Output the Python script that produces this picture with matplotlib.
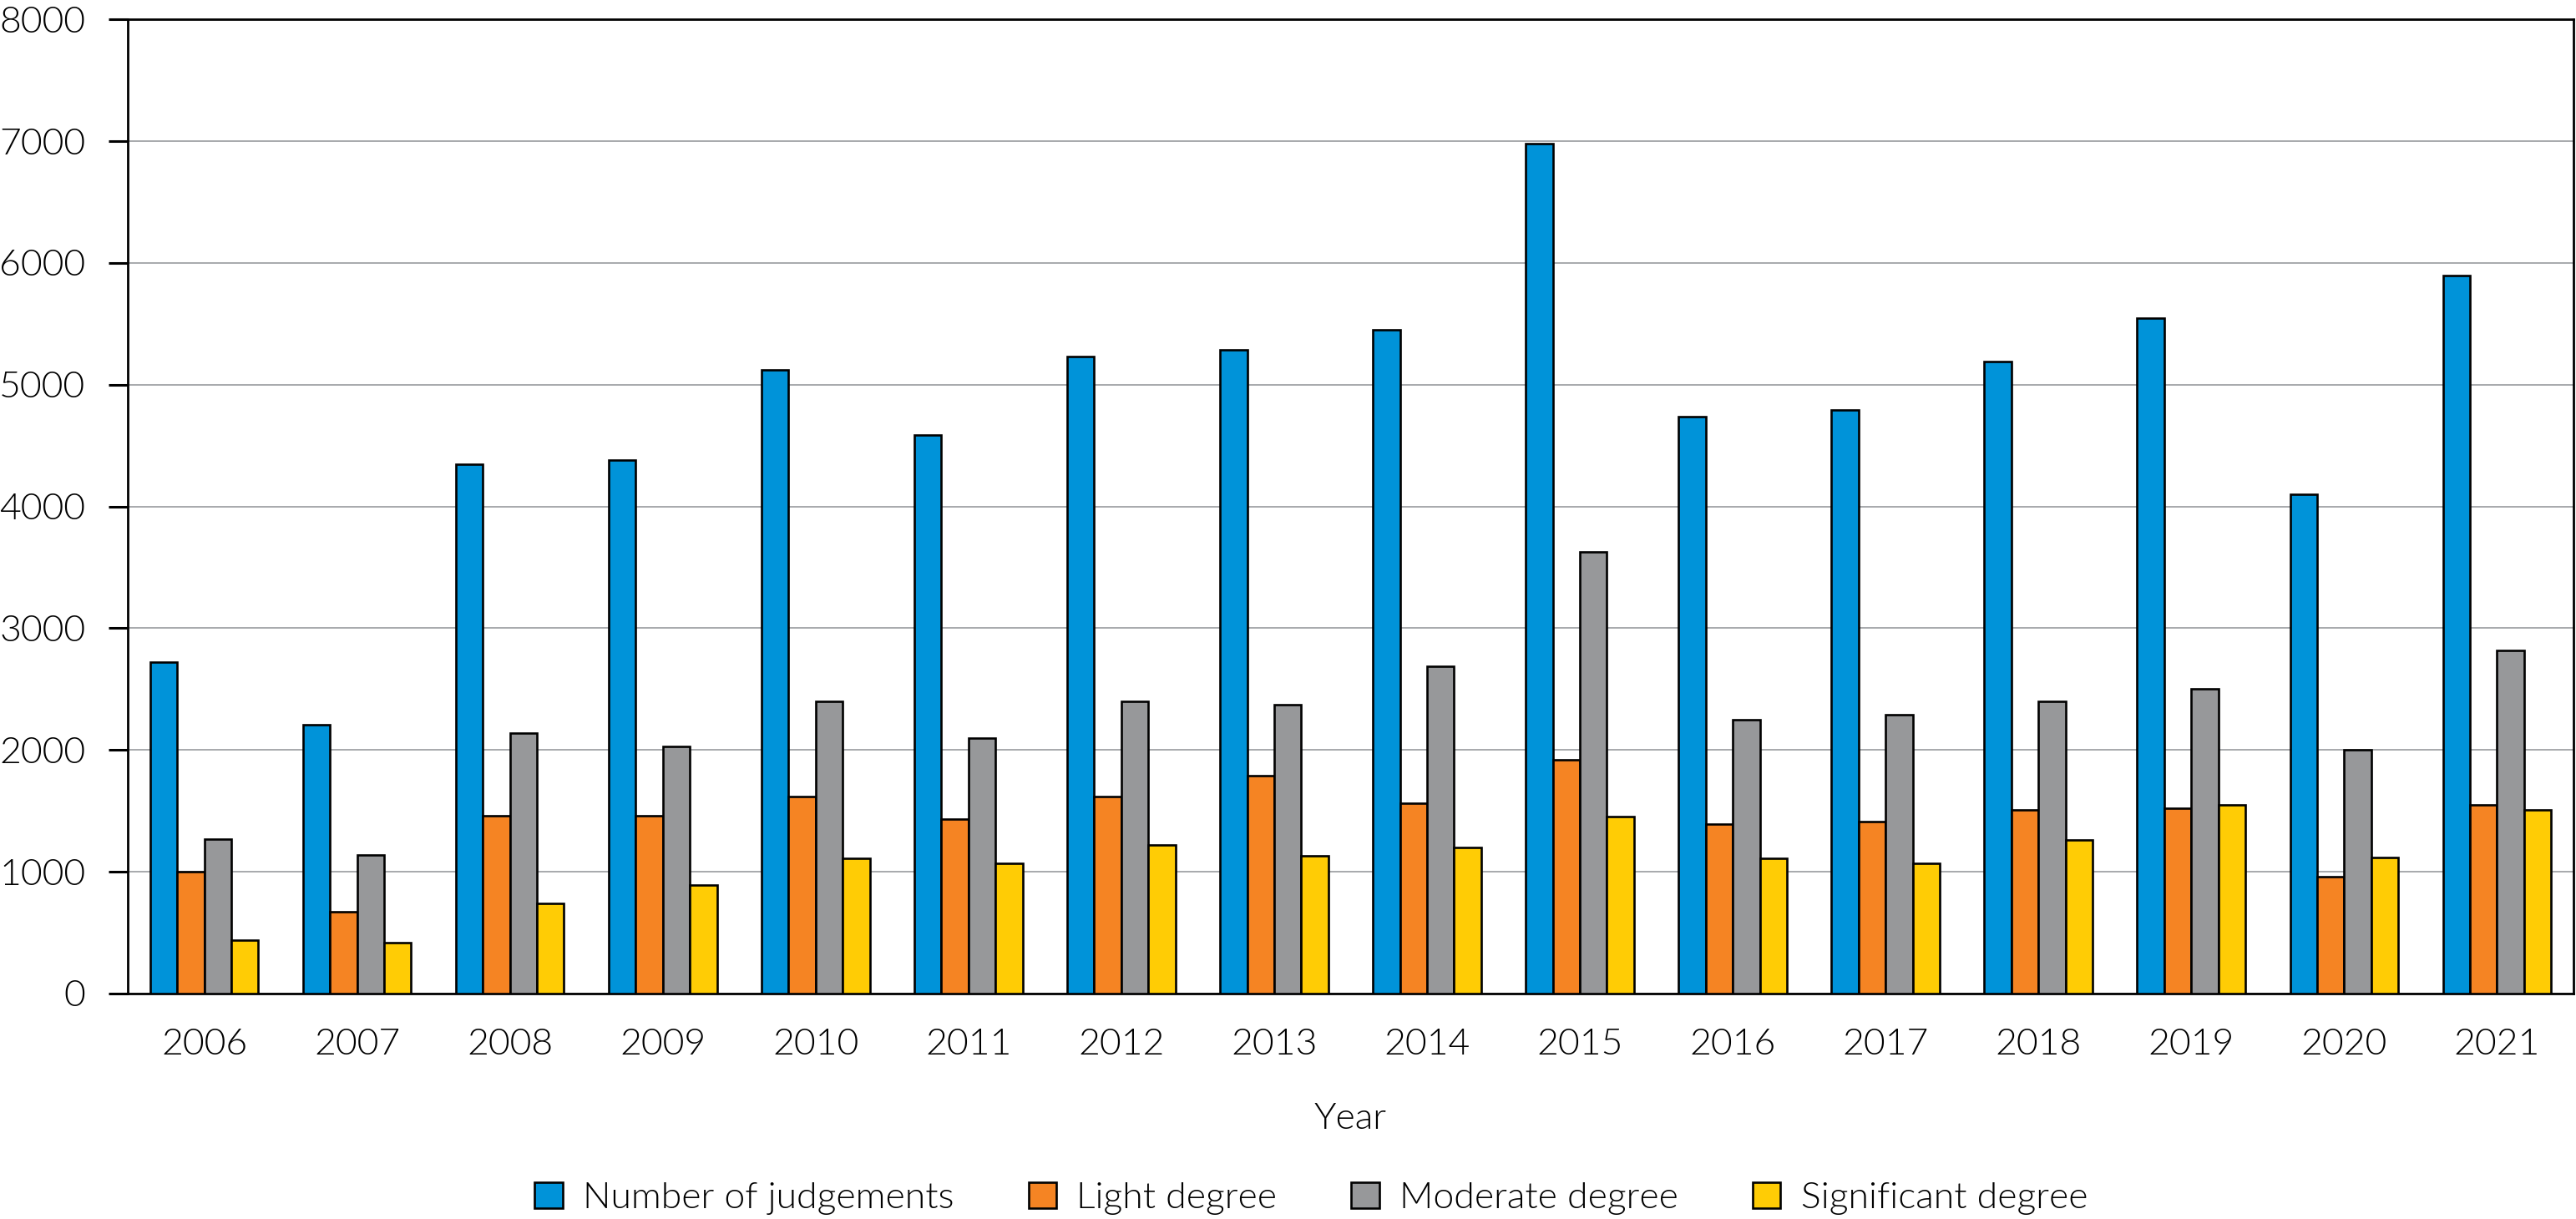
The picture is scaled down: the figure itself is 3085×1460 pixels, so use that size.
import numpy as np
import matplotlib
matplotlib.use("Agg")
import matplotlib.pyplot as plt

# ---------------------------------------------------------------- data
years = [2006, 2007, 2008, 2009, 2010, 2011, 2012, 2013,
         2014, 2015, 2016, 2017, 2018, 2019, 2020, 2021]
judgements = [2720, 2210, 4350, 4380, 5120, 4590, 5230, 5290,
              5450, 6980, 4740, 4790, 5190, 5550, 4100, 5900]
light = [1000, 670, 1460, 1460, 1620, 1435, 1620, 1790,
         1560, 1920, 1390, 1410, 1505, 1520, 960, 1550]
moderate = [1270, 1140, 2140, 2030, 2400, 2100, 2400, 2370,
            2690, 3630, 2250, 2290, 2400, 2500, 2000, 2820]
significant = [440, 420, 740, 890, 1110, 1070, 1220, 1130,
               1200, 1450, 1110, 1070, 1260, 1550, 1120, 1510]

series_names = ["Number of judgements", "Light degree",
                "Moderate degree", "Significant degree"]
colors = ["#0093D9", "#F58423", "#97989A", "#FFCC05"]

# ---------------------------------------------------------------- style
plt.rcParams["font.family"] = ["Lato", "DejaVu Sans"]
plt.rcParams["font.weight"] = 300
plt.rcParams["axes.labelweight"] = 300
FS = 32

fig = plt.figure(figsize=(30.85, 14.6), dpi=100)
ax = fig.add_axes([0.0496, 0.185, 0.9494, 0.799])

x = np.arange(len(years))
width = 0.177
all_series = [judgements, light, moderate, significant]
for i, (vals, name, c) in enumerate(zip(all_series, series_names, colors)):
    ax.bar(x + (i - 1.5) * width, vals, width, color=c, label=name,
           edgecolor="black", linewidth=1.9, zorder=3)

ax.set_xlim(-0.5, len(years) - 0.5)
ax.set_ylim(0, 8000)
ax.set_yticks(range(0, 8001, 1000))
ax.set_xticks(x)
ax.set_xticklabels([str(y) for y in years])

ax.yaxis.grid(True, color="#A7A9AC", linewidth=1.4, zorder=0)
ax.set_axisbelow(True)

for s in ax.spines.values():
    s.set_linewidth(2.0)
    s.set_color("black")

ax.tick_params(axis="y", length=16.5, width=2.2, pad=20, labelsize=FS,
               colors="black")
ax.tick_params(axis="x", length=0, pad=30, labelsize=FS, colors="black")

ax.set_xlabel("Year", fontsize=FS, labelpad=36, color="black")

handles, labels = ax.get_legend_handles_labels()
leg = fig.legend(handles, labels, loc="center", bbox_to_anchor=(0.509, 0.017),
                 ncol=4, frameon=False, fontsize=FS,
                 handlelength=0.75, handleheight=0.7,
                 handletextpad=0.55, columnspacing=2.0)
for t in leg.get_texts():
    t.set_color("black")

fig.savefig("out.png", dpi=100)
